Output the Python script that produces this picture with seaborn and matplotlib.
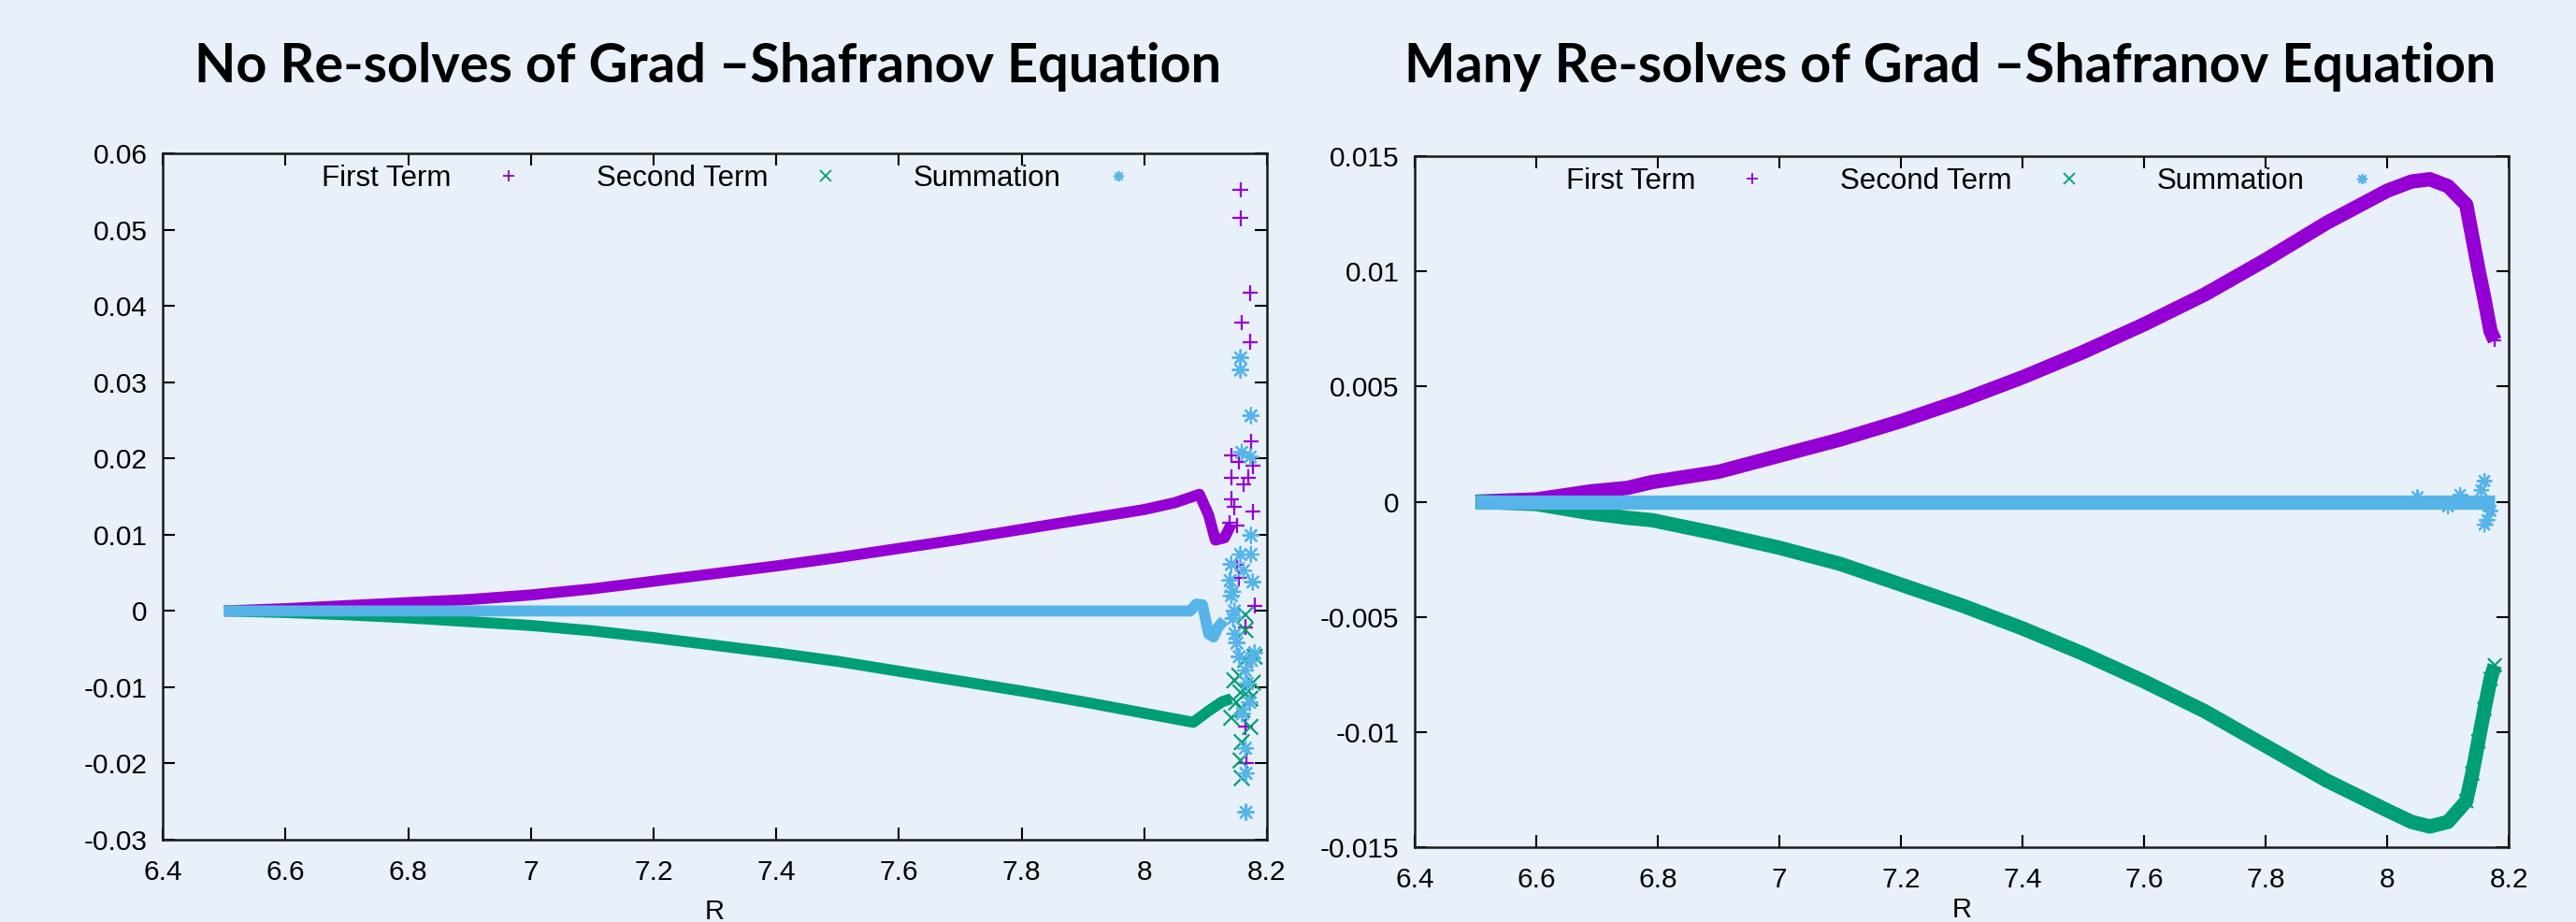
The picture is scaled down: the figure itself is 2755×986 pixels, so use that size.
"""
Grad-Shafranov force-balance terms, with and without re-solves
"""

import matplotlib
matplotlib.use("Agg")
import numpy as np
import pandas as pd
import matplotlib.pyplot as plt
import seaborn as sns
from matplotlib.lines import Line2D
from matplotlib.ticker import FormatStrFormatter, MultipleLocator

sns.set_style("ticks")
plt.rcParams['font.family'] = ['Liberation Sans', 'DejaVu Sans']
plt.rcParams['axes.unicode_minus'] = False

BG = '#e8f0fa'
terms = ['First Term', 'Second Term', 'Summation']
colors = {'First Term': '#9400d3', 'Second Term': '#009e73', 'Summation': '#56b4e9'}
markers = {'First Term': '+', 'Second Term': 'x', 'Summation': (8, 2, 0)}

# ================================= #
# NO RE-SOLVES (left panel)
# ================================= #
nr_first_R = [6.5, 6.6, 6.7, 6.8, 6.9, 7.0, 7.1, 7.2, 7.3, 7.4, 7.5, 7.6, 7.7, 7.8,
              7.9, 8.0, 8.05, 8.09, 8.105, 8.116, 8.131, 8.142]
nr_first = [0.0, 0.0003, 0.0007, 0.0011, 0.0015, 0.0021, 0.0029, 0.0039, 0.0049, 0.0059,
            0.0070, 0.0082, 0.0094, 0.0107, 0.0120, 0.0133, 0.0142, 0.0153, 0.0126,
            0.0093, 0.0096, 0.0114]
nr_second_R = [6.5, 6.6, 6.7, 6.8, 6.9, 7.0, 7.1, 7.2, 7.3, 7.4, 7.5, 7.6, 7.7, 7.8,
               7.9, 8.0, 8.08, 8.105, 8.127, 8.142]
nr_second = [0.0, -0.0002, -0.0005, -0.0009, -0.0014, -0.0019, -0.0026, -0.0035, -0.0045,
             -0.0055, -0.0066, -0.0079, -0.0092, -0.0105, -0.0119, -0.0134, -0.0146,
             -0.0131, -0.0119, -0.0115]
nr_sum_R = [6.5, 7.5, 8.075, 8.085, 8.095, 8.105, 8.113, 8.12, 8.13]
nr_sum = [0.0, 0.0, 0.0, 0.0009, 0.0008, -0.0030, -0.0034, -0.0022, -0.0012]

# scattered points in the unstable edge region
nr_first_pts_R = [8.157, 8.157, 8.173, 8.159, 8.173, 8.174, 8.142, 8.177, 8.154, 8.142,
                  8.170, 8.162, 8.142, 8.147, 8.177, 8.139, 8.151, 8.151, 8.154, 8.180,
                  8.165, 8.165, 8.166, 8.166]
nr_first_pts = [0.0552, 0.0515, 0.0417, 0.0378, 0.0353, 0.0222, 0.0204, 0.0190, 0.0196,
                0.0175, 0.0175, 0.0166, 0.0147, 0.0136, 0.0130, 0.0116, 0.0112, 0.0061,
                0.0043, 0.0007, -0.0021, -0.0152, -0.0199, -0.0264]
nr_second_pts_R = [8.165, 8.165, 8.180, 8.165, 8.147, 8.177, 8.157, 8.173, 8.142, 8.173,
                   8.159, 8.157, 8.159, 8.150, 8.160, 8.170, 8.155]
nr_second_pts = [-0.0005, -0.0025, -0.0060, -0.0064, -0.0091, -0.0094, -0.0107, -0.0115,
                 -0.0140, -0.0152, -0.0172, -0.0196, -0.0219, -0.0120, -0.0130, -0.0105,
                 -0.0085]
nr_sum_pts_R = [8.157, 8.157, 8.174, 8.159, 8.173, 8.174, 8.174, 8.157, 8.142, 8.162,
                8.177, 8.144, 8.147, 8.151, 8.180, 8.165, 8.165, 8.166, 8.166, 8.140,
                8.142, 8.145, 8.148, 8.155, 8.175, 8.168, 8.172, 8.160]
nr_sum_pts = [0.0332, 0.0316, 0.0256, 0.0208, 0.0202, 0.0099, 0.0074, 0.0074, 0.0061,
              0.0053, 0.0038, 0.0025, 0.0, -0.0042, -0.0055, -0.0078, -0.0180, -0.0213,
              -0.0264, 0.0040, 0.0020, -0.0010, -0.0030, -0.0060, -0.0065, -0.0095,
              -0.0120, -0.0135]

# ================================= #
# MANY RE-SOLVES (right panel)
# ================================= #
mr_R = [6.5, 6.6, 6.69, 6.75, 6.79, 6.9, 7.0, 7.1, 7.2, 7.3, 7.4, 7.5, 7.6, 7.7, 7.8,
        7.9, 8.0, 8.04, 8.07, 8.1, 8.13, 8.14, 8.15, 8.16, 8.17, 8.177]
mr_first = [0.0, 0.0001, 0.00045, 0.0006, 0.00085, 0.0013, 0.0020, 0.0027, 0.0035,
            0.0044, 0.0054, 0.0065, 0.0077, 0.0090, 0.0105, 0.0121, 0.0135, 0.0139,
            0.0140, 0.0137, 0.0129, 0.0115, 0.0101, 0.0088, 0.0074, 0.0070]
mr_second = [0.0, -0.0001, -0.0005, -0.0007, -0.0008, -0.0014, -0.0020, -0.0027, -0.0036,
             -0.0045, -0.0055, -0.0066, -0.0078, -0.0091, -0.0106, -0.0121, -0.0134,
             -0.0139, -0.0141, -0.0139, -0.0130, -0.0118, -0.0104, -0.0090, -0.0077,
             -0.0071]
mr_sum_R = [6.5, 7.5, 8.177]
mr_sum = [0.0, 0.0, 0.0]
mr_sum_pts_R = [8.16, 8.165, 8.155, 8.17, 8.16, 8.05, 8.10, 8.12]
mr_sum_pts = [0.0009, -0.0008, 0.0005, -0.0004, -0.0010, 0.0002, -0.0002, 0.0003]


def frame(pairs):
    return pd.concat([pd.DataFrame({'R': r, 'value': v, 'term': t}) for t, r, v in pairs],
                     ignore_index=True)


def draw_panel(ax, bands, points, lw, ms, legend_x, xlabelpad):
    sns.lineplot(data=bands, x='R', y='value', hue='term', hue_order=terms,
                 palette=colors, estimator=None, sort=False, linewidth=lw,
                 solid_capstyle='butt', solid_joinstyle='round', legend=False, ax=ax)
    sns.scatterplot(data=points, x='R', y='value', hue='term', style='term',
                    hue_order=terms, style_order=terms, palette=colors,
                    markers=markers, s=ms, linewidth=1.6, legend=False, ax=ax)
    handles = [Line2D([], [], linestyle='none', marker=markers[t], color=colors[t],
                      markersize=8, markeredgewidth=1.3) for t in terms]
    ax.legend(handles, terms, loc='center left', bbox_to_anchor=(legend_x, 0.963),
              ncol=3, frameon=False, markerfirst=False, fontsize=22.5, borderpad=0,
              borderaxespad=0, handlelength=1.0, handletextpad=1.47, columnspacing=2.5,
              labelcolor='black')
    ax.set_xlim(6.4, 8.2)
    ax.xaxis.set_major_locator(MultipleLocator(0.2))
    ax.xaxis.set_major_formatter(FormatStrFormatter('%g'))
    ax.yaxis.set_major_formatter(FormatStrFormatter('%g'))
    ax.tick_params(direction='in', length=9.5, width=1.5, top=True, right=True,
                   labelsize=21.5, colors='black')
    ax.tick_params(axis='x', pad=15)
    ax.tick_params(axis='y', pad=12)
    for sp in ax.spines.values():
        sp.set_linewidth(1.8)
        sp.set_color('#1a1a1a')
    ax.set_facecolor(BG)
    ax.set_xlabel('R', fontsize=21, labelpad=xlabelpad, color='black')
    ax.set_ylabel('')


fig = plt.figure(figsize=(27.55, 9.86), dpi=100, facecolor=BG)
ax1 = fig.add_axes([0.0632, 0.0892, 0.4286, 0.7444])
ax2 = fig.add_axes([0.5492, 0.0811, 0.4247, 0.7495])

left_bands = frame([('First Term', nr_first_R, nr_first),
                    ('Second Term', nr_second_R, nr_second),
                    ('Summation', nr_sum_R, nr_sum)])
left_points = frame([('First Term', nr_first_pts_R, nr_first_pts),
                     ('Second Term', nr_second_pts_R, nr_second_pts),
                     ('Summation', nr_sum_pts_R, nr_sum_pts)])
draw_panel(ax1, left_bands, left_points, lw=8.5, ms=140, legend_x=0.144, xlabelpad=10)
ax1.set_ylim(-0.03, 0.06)
ax1.yaxis.set_major_locator(MultipleLocator(0.01))

right_bands = frame([('First Term', mr_R, mr_first),
                     ('Second Term', mr_R, mr_second),
                     ('Summation', mr_sum_R, mr_sum)])
right_points = frame([('First Term', mr_R[-6:], mr_first[-6:]),
                      ('Second Term', mr_R[-6:], mr_second[-6:]),
                      ('Summation', mr_sum_pts_R, mr_sum_pts)])
draw_panel(ax2, right_bands, right_points, lw=11, ms=110, legend_x=0.138, xlabelpad=3)
ax2.set_ylim(-0.015, 0.015)
ax2.yaxis.set_major_locator(MultipleLocator(0.005))

fig.text(0.2748, 0.927, 'No Re-solves of Grad \u2013Shafranov Equation', ha='center',
         va='center', fontsize=41.5, fontweight='bold', color='black',
         family=['Lato', 'DejaVu Sans'])
fig.text(0.757, 0.927, 'Many Re-solves of Grad \u2013Shafranov Equation', ha='center',
         va='center', fontsize=41.5, fontweight='bold', color='black',
         family=['Lato', 'DejaVu Sans'])

fig.savefig('out.png', dpi=100, facecolor=BG)
plt.close('all')
